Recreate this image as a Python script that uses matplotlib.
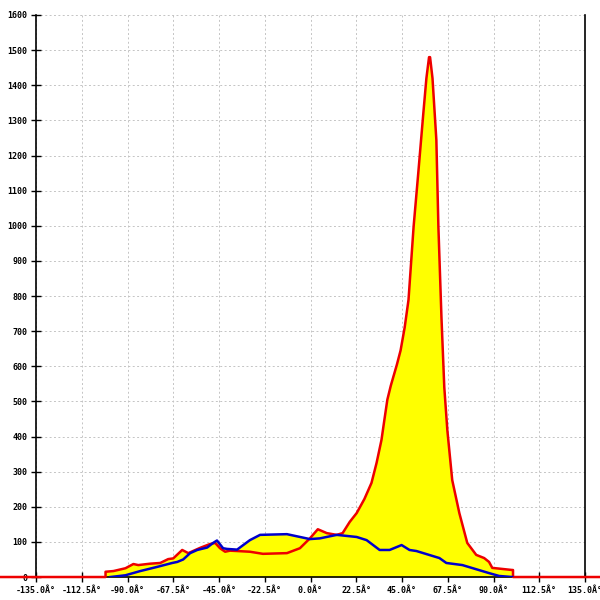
import matplotlib
matplotlib.use("Agg")
import matplotlib.pyplot as plt
import numpy as np

# Red series (filled): angle (deg) -> value
red_x = [-180, -100.8, -100.8, -96.9, -91.0, -87.1, -84.7, -78.8, -73.9, -70.0, -67.5,
         -63.1, -60.1, -54.3, -49.4, -46.9, -44.5, -42.0, -39.6, -36.1, -29.8,
         -23.4, -11.6, -5.2, -0.3, 3.6, 8.0, 12.9, 15.8, 19.3, 22.7, 26.5, 30.0, 32.5,
         34.9, 36.4, 37.8, 39.5, 41.0, 42.5, 44.3, 46.3, 48.2, 50.7, 53.0, 55.5, 57.0, 58.3, 58.8, 60.0,
         61.9, 62.9, 64.4, 65.8, 67.3, 69.7, 73.2, 77.1, 81.5, 85.4, 87.8, 89.4,
         94.3, 99.2, 99.6, 99.6, 180]
red_y = [0, 0, 15, 17, 25, 37, 34, 38, 40, 51, 53,
         77, 68, 83, 94, 97, 82, 72, 75, 74, 72,
         66, 68, 82, 110, 136, 125, 120, 125, 157, 182, 222, 268, 325,
         390, 450, 505, 545, 575, 605, 645, 710, 789, 997, 1150, 1321, 1420, 1480, 1480, 1420,
         1244, 997, 740, 540, 418, 276, 182, 97, 63, 54, 43, 26,
         23, 20, 20, 0, 0]

# Blue series
blue_x = [-98.4, -96.9, -91.0, -83.7, -75.3, -68.0, -65.5, -62.6, -59.2, -55.7,
          -50.8, -47.9, -46.0, -43.0, -41.1, -36.1, -29.8, -24.8, -11.6, -0.3,
          4.6, 12.9, 22.7, 27.6, 34.0, 38.9, 44.8, 48.7, 52.1, 63.4, 66.8, 74.7,
          87.9, 92.8, 99.2]
blue_y = [0, 1, 5, 17, 29, 40, 43, 50, 68, 77,
          84, 97, 104, 82, 80, 78, 105, 120, 122, 108,
          110, 120, 114, 105, 77, 77, 91, 77, 74, 54, 40, 34,
          11, 3, 0]

x_ticks = [-135, -112.5, -90, -67.5, -45, -22.5, 0, 22.5, 45, 67.5, 90, 112.5, 135]
x_tick_labels = ["%.1fÂ°" % v for v in x_ticks]
y_ticks = list(range(0, 1700, 100))

fig = plt.figure(figsize=(6, 6), dpi=100)
ax = fig.add_axes([0.06, 0.0383, 0.915, 0.9367])

ax.fill_between(red_x, red_y, color="#ffff00", linewidth=0, zorder=1)
ax.fill_between(blue_x, blue_y, color="#ffff00", linewidth=0, zorder=1)
ax.plot(red_x, red_y, color="#ee0000", linewidth=1.8, zorder=4, clip_on=False,
        solid_joinstyle="round")
ax.plot(blue_x, blue_y, color="#0000cc", linewidth=1.8, zorder=5, solid_joinstyle="round")

ax.set_xlim(-135, 135)
ax.set_ylim(0, 1600)
ax.set_xticks(x_ticks)
ax.set_xticklabels(x_tick_labels)
ax.set_yticks(y_ticks)
ax.set_yticklabels([str(v) for v in y_ticks])

for lab in ax.get_xticklabels() + ax.get_yticklabels():
    lab.set_fontfamily("DejaVu Sans Mono")
    lab.set_fontsize(6)
    lab.set_fontweight("bold")

ax.tick_params(axis="both", direction="inout", length=6.5, width=1, color="black", pad=3)
ax.grid(True, color="#c4c4c4", linestyle=(0, (2, 2.5)), linewidth=0.7, zorder=0)
ax.set_axisbelow(True)

ax.spines["top"].set_visible(False)
for s in ["left", "right", "bottom"]:
    ax.spines[s].set_color("black")
    ax.spines[s].set_linewidth(1.2)

fig.savefig("out.png", dpi=100)
